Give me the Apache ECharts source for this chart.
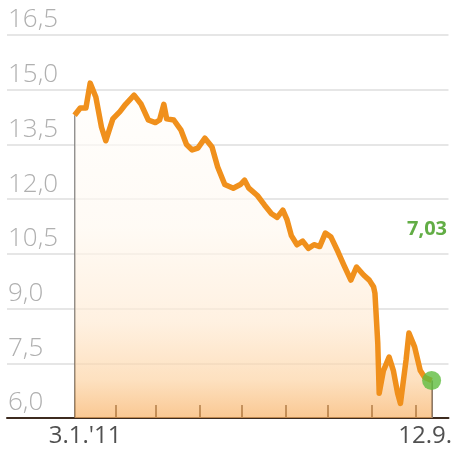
<!DOCTYPE html>
<html>
<head>
<meta charset="utf-8">
<style>
html,body{margin:0;padding:0;background:#fff;}
#c{width:455px;height:457px;}
</style>
<script src="https://cdn.jsdelivr.net/npm/echarts@6/dist/echarts.min.js"></script>
</head>
<body>
<div id="c"></div>
<script>
var dates = ['2011-01-03','2011-01-07','2011-01-11','2011-01-14','2011-01-18','2011-01-22','2011-01-25','2011-01-30',
'2011-02-04','2011-02-08','2011-02-14','2011-02-19','2011-02-24','2011-03-01','2011-03-04','2011-03-07','2011-03-09',
'2011-03-14','2011-03-19','2011-03-23','2011-03-27','2011-03-31','2011-04-05','2011-04-10','2011-04-14','2011-04-19',
'2011-04-25','2011-04-30','2011-05-03','2011-05-06','2011-05-12','2011-05-17','2011-05-22','2011-05-26','2011-05-30',
'2011-06-02','2011-06-05','2011-06-09','2011-06-13','2011-06-17','2011-06-21','2011-06-25','2011-06-29','2011-07-03',
'2011-07-08','2011-07-12','2011-07-17','2011-07-21','2011-07-26','2011-07-30','2011-08-02','2011-08-03','2011-08-05',
'2011-08-06','2011-08-09','2011-08-13','2011-08-16','2011-08-19','2011-08-21','2011-08-25','2011-08-27','2011-08-31',
'2011-09-04','2011-09-07','2011-09-12'];
var values = [14.3,14.5,14.5,15.18,14.8,13.97,13.6,14.2,
14.4,14.6,14.85,14.6,14.17,14.1,14.17,14.6,14.2,
14.17,13.9,13.5,13.35,13.4,13.67,13.43,12.88,12.4,
12.3,12.4,12.52,12.3,12.1,11.84,11.6,11.5,11.7,
11.43,11.0,10.75,10.85,10.65,10.75,10.7,11.07,10.96,
10.55,10.2,9.78,10.14,9.92,9.78,9.6,9.42,8.05,
6.68,7.3,7.67,7.3,6.68,6.4,7.6,8.33,7.95,
7.3,7.12,7.03];
var tickDates = ['2011-02-01','2011-03-01','2011-04-01','2011-05-01','2011-06-01','2011-07-01','2011-08-01','2011-09-01'];
var xLabels = ["3.1.'11", "12.9."];
var yMin = 6, yMax = 16.5, yStep = 1.5;

function ts(s){ var p = s.split('-'); return Date.UTC(+p[0], +p[1]-1, +p[2]); }
var DAY = 86400000;
var startT = ts(dates[0]), endT = ts(dates[dates.length-1]);
var lastVal = values[values.length-1];
var lineData = dates.map(function(d,i){ return [ts(d), values[i]]; });

var chart = echarts.init(document.getElementById('c'), null, {renderer:'canvas'});
chart.setOption({
  animation:false,
  grid:{left:7, right:3, top:35, bottom:39},
  xAxis:{
    type:'value',
    min: startT - 47.7*DAY,
    max: endT + 11.9*DAY,
    axisLine:{show:true, onZero:false, lineStyle:{color:'#3d2b1f', width:2}},
    axisTick:{show:true, inside:true, length:13, customValues: tickDates.map(ts), lineStyle:{color:'#4a3322', width:2}},
    axisLabel:{
      show:true, customValues:[startT, endT], margin:6, align:'center',
      formatter:function(v){ return v === startT ? '{l|'+xLabels[0]+'}' : '{r|'+xLabels[1]+'}'; },
      rich:{
        l:{fontFamily:'Open Sans', fontSize:24, color:'#505050', padding:[0,0,0,21]},
        r:{fontFamily:'Open Sans', fontSize:24, color:'#505050', padding:[0,13,0,0]}
      }
    },
    splitLine:{show:false}
  },
  yAxis:{
    type:'value', min:yMin, max:yMax, interval:yStep,
    axisLine:{show:false}, axisTick:{show:false},
    axisLabel:{
      inside:true, align:'left', verticalAlign:'bottom', margin:1,
      fontFamily:'Open Sans', fontWeight:300, fontSize:26, color:'#b0b0b0', lineHeight:26, padding:[0,0,2,0],
      formatter:function(v){ return v.toFixed(1).replace('.', ','); }
    },
    splitLine:{lineStyle:{color:'#dedede', width:1.5}}
  },
  graphic:[{
    type:'text', right:8, top:219,
    style:{text: lastVal.toFixed(2).replace('.', ','), fontFamily:'Open Sans', fontWeight:'bold', fontSize:20, fill:'#62ad45'}
  }],
  series:[{
    type:'line', data:lineData, symbol:'none', z:3,
    lineStyle:{color:'#f0901c', width:5.5, join:'round'},
    areaStyle:{color:{type:'linear', x:0, y:35, x2:0, y2:418, global:true, colorStops:[
      {offset:0, color:'#ffffff'},{offset:0.5, color:'#fff8f0'},{offset:0.75, color:'#feead3'},{offset:0.9, color:'#fcd3a4'},{offset:1, color:'#f7b064'}]}},
    markLine:{
      silent:true, symbol:'none', label:{show:false}, z:2,
      data:[
        [{coord:[startT, yMin], lineStyle:{color:'#333333', width:1.5, type:'solid'}}, {coord:[startT, values[0]]}],
        [{coord:[endT, yMin], lineStyle:{color:'#8c7a6a', width:2, type:'solid'}}, {coord:[endT, lastVal]}]
      ]
    }
  },{
    type:'scatter', data:[[endT, lastVal]], symbol:'circle', symbolSize:19, z:5,
    itemStyle:{color:'#5fbd40'}, silent:true
  }]
});
</script>
</body>
</html>
